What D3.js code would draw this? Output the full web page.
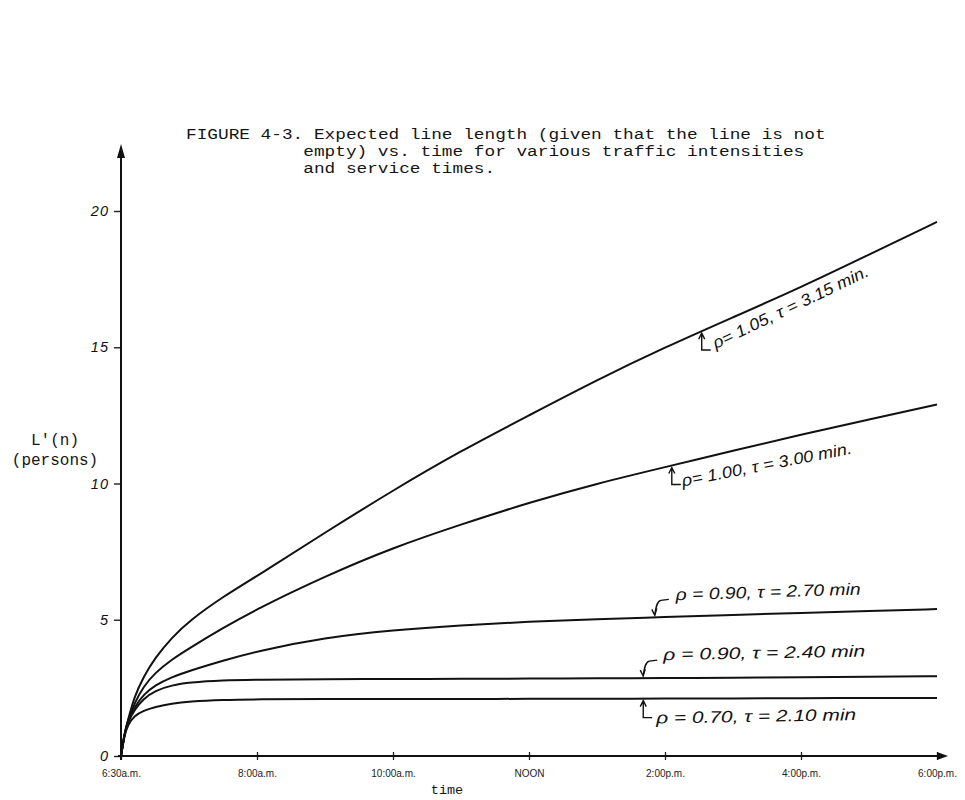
<!DOCTYPE html>
<html>
<head>
<meta charset="utf-8">
<script src="https://cdn.jsdelivr.net/npm/d3@7"></script>
<style>
  body { margin: 0; background: #fff; }
  svg { display: block; }
  .mono { font-family: "Liberation Mono", "DejaVu Sans Mono", monospace; fill: #151515; }
  .hand { font-family: "Liberation Sans", "DejaVu Sans", sans-serif; font-style: italic; fill: #111; }
</style>
</head>
<body>
<svg id="chart" width="965" height="800"></svg>
<script>
// time in hours (6 = start of day, 18 = 6 p.m.)
const hours  = [6, 6.05, 6.1, 6.2, 6.33, 6.5, 6.75, 7, 7.5, 8, 9, 10, 11, 12, 13, 14, 15, 16, 17, 18];

// expected line length L'(n), persons
const rho105 = [0, 0.8, 1.3, 2.2, 2.9, 3.6, 4.35, 4.95, 5.85, 6.6, 8.2, 9.75, 11.2, 12.5, 13.8, 15.0, 16.1, 17.2, 18.4, 19.6];
const rho100 = [0, 0.8, 1.3, 1.95, 2.55, 3.05, 3.55, 3.95, 4.7, 5.4, 6.6, 7.65, 8.5, 9.3, 10.0, 10.6, 11.2, 11.8, 12.35, 12.9];
const rho90a = [0, 0.8, 1.3, 1.8, 2.25, 2.6, 2.9, 3.12, 3.5, 3.85, 4.35, 4.62, 4.8, 4.93, 5.02, 5.1, 5.18, 5.25, 5.32, 5.39];
const rho90b = [0, 0.8, 1.25, 1.7, 2.1, 2.4, 2.6, 2.7, 2.78, 2.8, 2.82, 2.83, 2.83, 2.84, 2.85, 2.86, 2.87, 2.89, 2.91, 2.93];
const rho70  = [0, 0.75, 1.15, 1.48, 1.66, 1.8, 1.93, 2.0, 2.06, 2.08, 2.09, 2.09, 2.09, 2.1, 2.1, 2.11, 2.11, 2.12, 2.13, 2.13];

const seriesLabels = [
  "ρ= 1.05, τ = 3.15 min.",
  "ρ= 1.00, τ = 3.00 min.",
  "ρ = 0.90,  τ = 2.70 min",
  "ρ = 0.90,  τ = 2.40 min",
  "ρ = 0.70,  τ = 2.10 min"
];

const xTicks  = [6, 8, 10, 12, 14, 16, 18];
const xLabels = ["6:30a.m.", "8:00a.m.", "10:00a.m.", "NOON", "2:00p.m.", "4:00p.m.", "6:00p.m."];
const yTicks  = [0, 5, 10, 15, 20];

const titleLines = [
  "FIGURE 4-3. Expected line length (given that the line is not",
  "empty) vs. time for various traffic intensities",
  "and service times."
];

const svg = d3.select("#chart");

const x = d3.scaleLinear().domain([6, 18]).range([121, 937]);
const y = d3.scaleLinear().domain([0, 20]).range([756, 211]);

const allSeries = [rho105, rho100, rho90a, rho90b, rho70];

// title, typewriter style (10.66px per character, like the original)
const charW = 10.66;
const title = svg.append("g").attr("class", "mono").style("font-size", "15.5px");
title.append("text").attr("x", 186).attr("y", 139)
  .attr("textLength", titleLines[0].length * charW).attr("lengthAdjust", "spacingAndGlyphs").text(titleLines[0]);
title.append("text").attr("x", 186 + 11 * charW).attr("y", 156)
  .attr("textLength", titleLines[1].length * charW).attr("lengthAdjust", "spacingAndGlyphs").text(titleLines[1]);
title.append("text").attr("x", 186 + 11 * charW).attr("y", 173)
  .attr("textLength", titleLines[2].length * charW).attr("lengthAdjust", "spacingAndGlyphs").text(titleLines[2]);

// y label
svg.append("text").attr("class", "mono").style("font-size", "16px")
  .attr("x", 55).attr("y", 445).attr("text-anchor", "middle").text("L'(n)");
svg.append("text").attr("class", "mono").style("font-size", "16px")
  .attr("x", 55).attr("y", 465).attr("text-anchor", "middle").text("(persons)");

// axes
const yAxis = svg.append("g")
  .attr("transform", `translate(${x(6)},0)`)
  .call(d3.axisLeft(y).tickValues(yTicks).tickSize(7).tickPadding(5));
yAxis.select(".domain").remove();
yAxis.selectAll("line").attr("stroke", "#222").attr("stroke-width", 1.4);
yAxis.selectAll("text").attr("class", "hand")
  .style("font-size", "14.5px").style("letter-spacing", "1px").attr("fill", "#222");

const xAxis = svg.append("g")
  .attr("transform", `translate(0,${y(0)})`)
  .call(d3.axisBottom(x).tickValues(xTicks).tickFormat((d, i) => xLabels[i]).tickSize(4).tickPadding(10));
xAxis.select(".domain").remove();
xAxis.selectAll("line").attr("y1", -4).attr("stroke", "#222").attr("stroke-width", 1.3);
xAxis.selectAll("text")
  .style("font-family", "'Liberation Sans', sans-serif")
  .style("font-size", "10px").attr("fill", "#222");

// axis lines with arrows
svg.append("line").attr("x1", x(6)).attr("x2", x(6)).attr("y1", y(0) + 4).attr("y2", 150)
  .attr("stroke", "#111").attr("stroke-width", 2);
svg.append("path").attr("d", `M${x(6)},144 l-4,14 l8,0 z`).attr("fill", "#111");
svg.append("line").attr("x1", x(6) - 3).attr("x2", 944).attr("y1", y(0)).attr("y2", y(0))
  .attr("stroke", "#111").attr("stroke-width", 1.8);
svg.append("path").attr("d", `M948,${y(0)} l-11,-4 l0,8 z`).attr("fill", "#111");

svg.append("text").attr("class", "mono").style("font-size", "13.5px")
  .attr("x", 447).attr("y", 794).attr("text-anchor", "middle").text("time");

// curves
const line = d3.line()
  .x((d, i) => x(hours[i]))
  .y(d => y(d))
  .curve(d3.curveBasis);

svg.append("g").selectAll("path")
  .data(allSeries)
  .join("path")
  .attr("d", line)
  .attr("fill", "none")
  .attr("stroke", "#111")
  .attr("stroke-width", 2);

// value of a series at hour h (for placing the labels on the curves)
const valueAt = (s, h) => {
  const i = d3.bisectRight(hours, h) - 1;
  const t = (h - hours[i]) / (hours[i + 1] - hours[i]);
  return s[i] + t * (s[i + 1] - s[i]);
};

// hand-written labels with their little arrows
const notes = [
  { h: 14.54, side: "below", dx: 14, dy: 18, angle: -25.5, len: 171 },
  { h: 14.10, side: "below", dx: 11, dy: 21, angle: -11,   len: 173 },
  { h: 13.85, side: "above", dx: 21, dy: -17, angle: -1.8, len: 185 },
  { h: 13.68, side: "above", dx: 20, dy: -18, angle: -1,   len: 202 },
  { h: 13.68, side: "below", dx: 13, dy: 25, angle: -1,    len: 200 }
];

const noteG = svg.append("g");
notes.forEach((n, i) => {
  const cx = x(n.h), cy = y(valueAt(allSeries[i], n.h));
  let p;
  if (n.side === "below") {
    p = `M${cx},${cy + 2} L${cx},${cy + 19} L${cx + 9},${cy + 19}` +
        `M${cx - 3},${cy + 8} L${cx},${cy + 2} L${cx + 3},${cy + 8}`;
  } else {
    p = `M${cx},${cy - 2} C${cx + 1},${cy - 10} ${cx + 2},${cy - 16} ${cx + 6},${cy - 17} L${cx + 14},${cy - 18}` +
        `M${cx - 3},${cy - 8} L${cx},${cy - 2} L${cx + 2},${cy - 9}`;
  }
  noteG.append("path").attr("d", p).attr("fill", "none")
    .attr("stroke", "#111").attr("stroke-width", 1.4);
  noteG.append("text").attr("class", "hand")
    .style("font-size", "16.5px")
    .attr("transform", `translate(${cx + n.dx},${cy + n.dy}) rotate(${n.angle})`)
    .attr("textLength", n.len)
    .attr("lengthAdjust", "spacingAndGlyphs")
    .text(seriesLabels[i]);
});
</script>
</body>
</html>
